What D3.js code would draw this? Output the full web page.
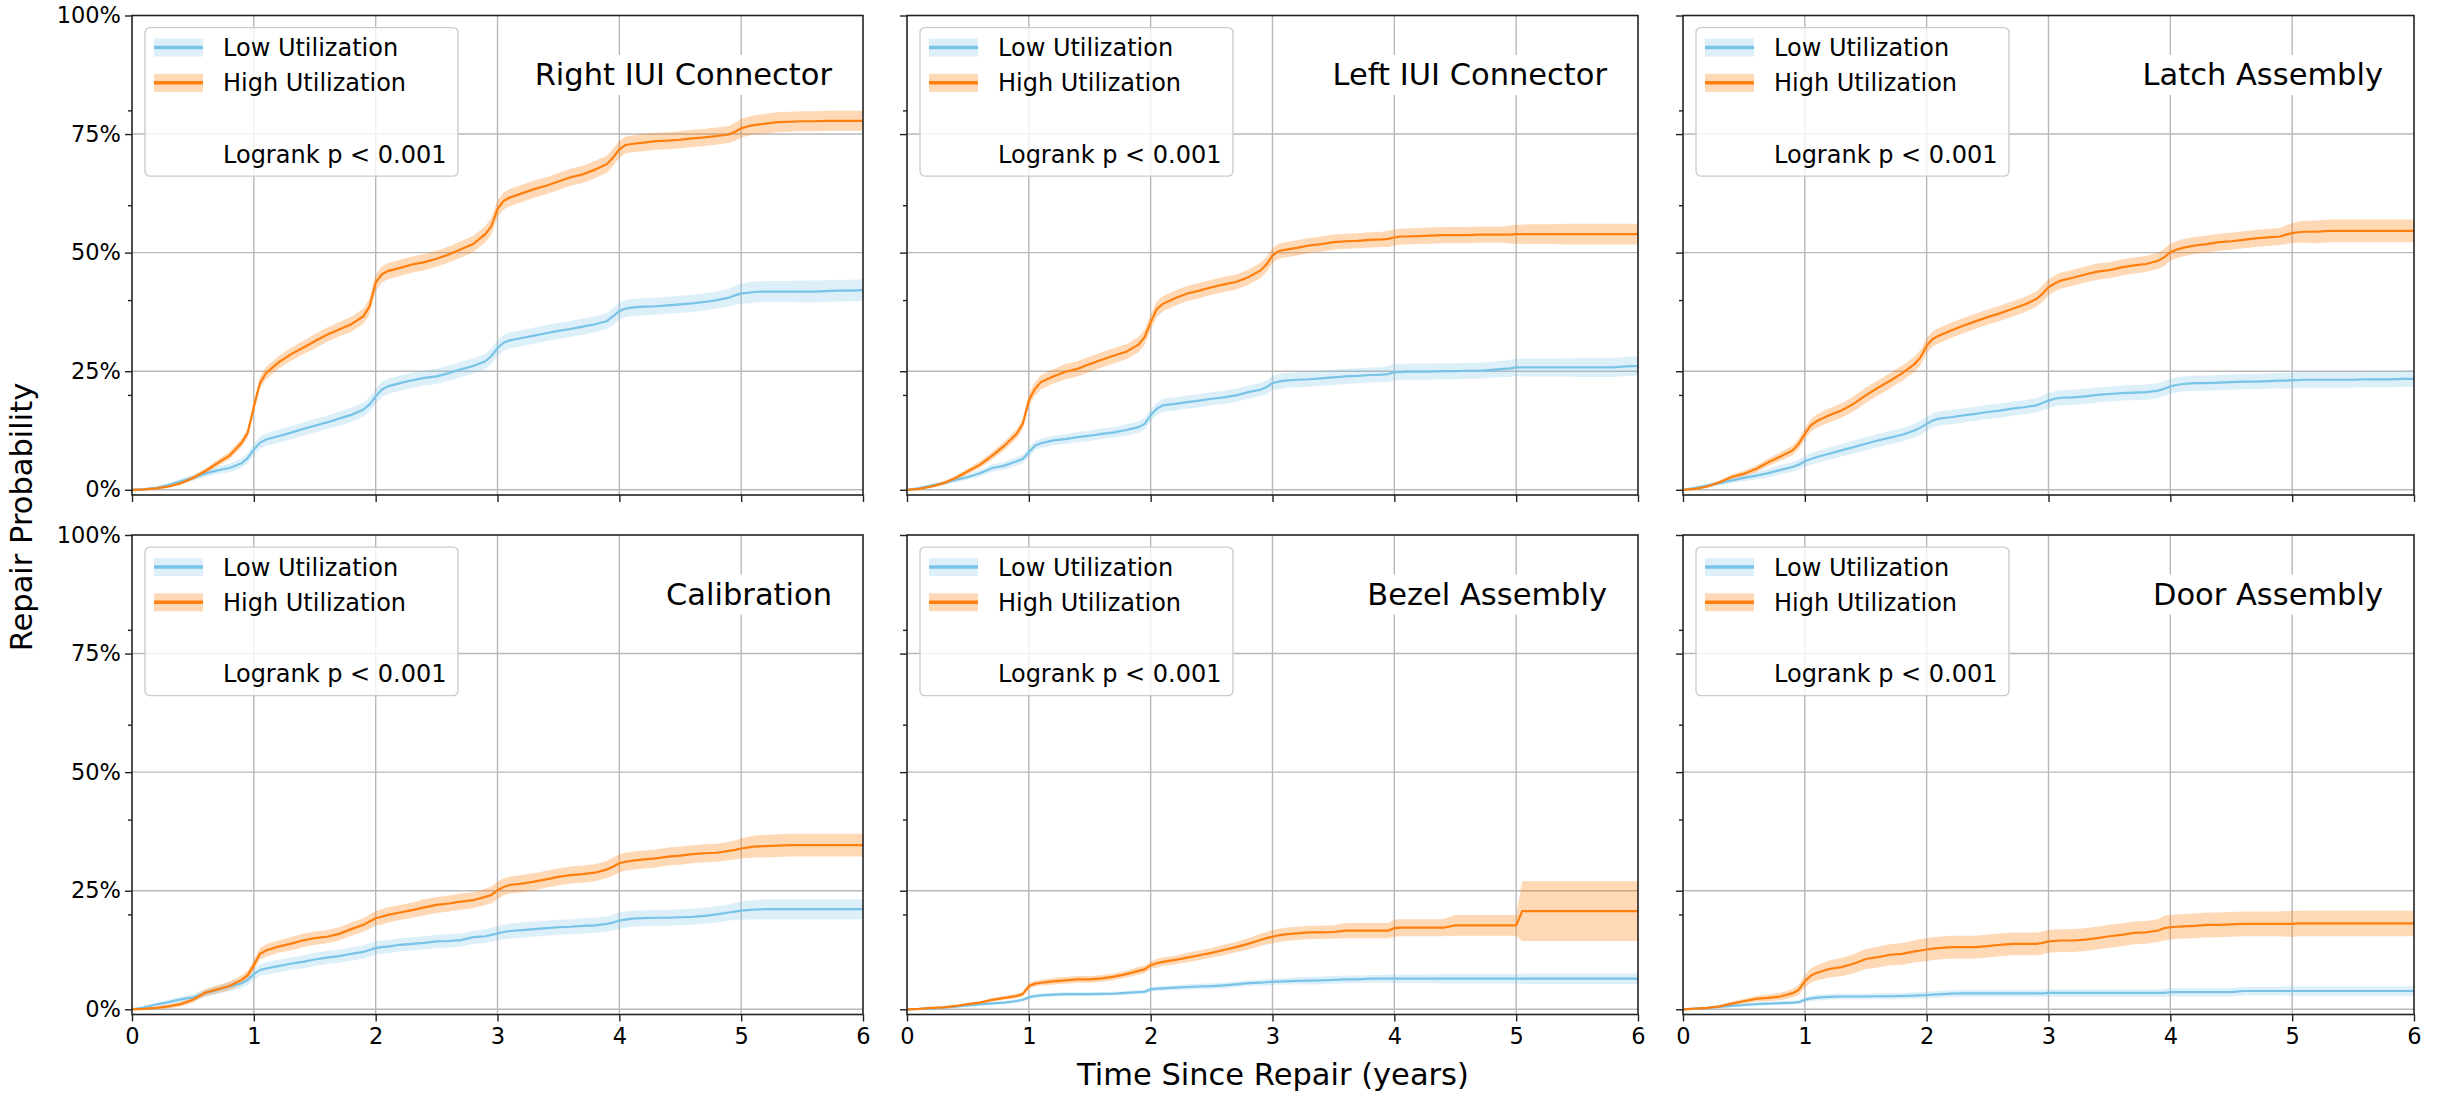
<!DOCTYPE html>
<html>
    <head>
        <meta charset="UTF-8">
        <script src="https://d3js.org/d3.v7.min.js"></script>
        <style>
            body { margin: 0; background: #fff; }
        </style>
    </head>

    <body>

        <svg id="canvas"></svg>

        <script>

            // time grid (years), shared by every curve
            years = [
                0, 0.1, 0.2, 0.3, 0.4, 0.5, 0.6, 0.7, 0.8, 0.9,
                0.95, 1, 1.05, 1.1, 1.2, 1.3, 1.4, 1.5, 1.6, 1.7, 1.8, 1.9,
                1.95, 2, 2.05, 2.1, 2.2, 2.3, 2.4, 2.5, 2.6, 2.7, 2.8, 2.9,
                2.95, 3, 3.05, 3.1, 3.2, 3.3, 3.4, 3.5, 3.6, 3.7, 3.8, 3.9,
                3.95, 4, 4.05, 4.1, 4.2, 4.3, 4.4, 4.5, 4.6, 4.7, 4.8, 4.9,
                4.95, 5, 5.05, 5.1, 5.2, 5.3, 5.4, 5.5, 5.6, 5.7, 5.8, 5.9,
                6
            ];

            titles = ["Right IUI Connector", "Left IUI Connector", "Latch Assembly",
                      "Calibration", "Bezel Assembly", "Door Assembly"];
            legendLabels = ["Low Utilization", "High Utilization"];
            pLabels = ["Logrank p < 0.001", "Logrank p < 0.001", "Logrank p < 0.001",
                       "Logrank p < 0.001", "Logrank p < 0.001", "Logrank p < 0.001"];
            xTicks = [0, 1, 2, 3, 4, 5, 6];
            yTicks = [0, 25, 50, 75, 100];
            yMinor = [20, 40, 60, 80];

            // repair probability (%) and CI half width (%)
            rightHigh = [
                0, 0.1, 0.3, 0.7, 1.4, 2.5, 3.9, 5.6, 7.2, 9.9,
                12, 17.5, 22.5, 24.6, 26.8, 28.5, 29.9, 31.3, 32.7, 33.8, 34.9, 36.6,
                38.7, 43.7, 45.4, 46.1, 46.8, 47.5, 48, 48.7, 49.6, 50.7, 51.8, 53.9,
                55.6, 59.2, 60.9, 61.6, 62.5, 63.4, 64.1, 65, 65.9, 66.5, 67.5, 68.7,
                70.1, 71.8, 72.7, 72.9, 73.2, 73.5, 73.6, 73.8, 74.1, 74.3, 74.6, 74.9,
                75.5, 76.2, 76.6, 76.9, 77.2, 77.5, 77.6, 77.7, 77.7, 77.8, 77.8, 77.8,
                77.8
            ];
            rightHighCI = [
                0, 0.1, 0.2, 0.3, 0.4, 0.5, 0.6, 0.7, 0.8, 0.9,
                1, 1.1, 1.2, 1.3, 1.3, 1.4, 1.4, 1.5, 1.5, 1.5, 1.6, 1.6,
                1.7, 1.7, 1.7, 1.7, 1.7, 1.7, 1.7, 1.7, 1.7, 1.7, 1.7, 1.7,
                1.8, 1.8, 1.8, 1.8, 1.8, 1.8, 1.8, 1.8, 1.8, 1.8, 1.8, 1.8,
                1.8, 1.8, 1.8, 1.8, 1.8, 1.8, 1.8, 1.8, 1.8, 1.8, 1.8, 1.8,
                1.9, 2, 2, 2, 2.1, 2.1, 2.1, 2.1, 2.1, 2.1, 2.1, 2.1,
                2.1
            ];
            rightLow = [
                0, 0.15, 0.4, 1, 1.8, 2.5, 3.4, 4.1, 4.6, 5.6,
                6.7, 8.5, 9.9, 10.6, 11.3, 12, 12.8, 13.5, 14.2, 15, 15.8, 16.9,
                18, 19.7, 21.1, 21.8, 22.5, 23.1, 23.6, 23.9, 24.6, 25.4, 26.1, 27.1,
                28.2, 29.9, 31, 31.5, 32, 32.5, 33, 33.5, 33.9, 34.4, 34.9, 35.6,
                36.6, 37.7, 38.2, 38.4, 38.6, 38.7, 38.9, 39.1, 39.3, 39.6, 40, 40.5,
                41, 41.4, 41.5, 41.7, 41.8, 41.8, 41.8, 41.8, 41.8, 41.9, 42, 42,
                42.1
            ];
            rightLowCI = [
                0, 0.2, 0.3, 0.4, 0.5, 0.6, 0.7, 0.8, 0.9, 1,
                1.1, 1.2, 1.3, 1.3, 1.4, 1.4, 1.4, 1.4, 1.4, 1.5, 1.5, 1.5,
                1.5, 1.6, 1.6, 1.6, 1.6, 1.6, 1.6, 1.6, 1.6, 1.6, 1.6, 1.6,
                1.7, 1.7, 1.7, 1.7, 1.7, 1.7, 1.7, 1.7, 1.7, 1.7, 1.7, 1.7,
                1.8, 1.8, 1.8, 1.8, 1.8, 1.8, 1.8, 1.8, 1.8, 1.8, 1.8, 1.9,
                2, 2.1, 2.2, 2.2, 2.2, 2.2, 2.2, 2.3, 2.3, 2.3, 2.3, 2.3,
                2.3
            ];

            leftHigh = [
                0, 0.2, 0.7, 1.4, 2.5, 3.9, 5.3, 7.2, 9.3, 11.8,
                13.9, 18.8, 21.3, 22.7, 23.9, 24.9, 25.5, 26.5, 27.4, 28.3, 29.1, 30.6,
                32.2, 35.3, 38.1, 39.2, 40.4, 41.4, 42, 42.7, 43.3, 43.8, 44.8, 46.2,
                47.5, 49.4, 50.3, 50.6, 51, 51.5, 51.8, 52.2, 52.4, 52.5, 52.7, 52.8,
                52.9, 53.2, 53.4, 53.4, 53.5, 53.6, 53.7, 53.7, 53.7, 53.8, 53.8, 53.8,
                53.8, 53.9, 53.9, 53.9, 53.9, 53.9, 53.9, 53.9, 53.9, 53.9, 53.9, 53.9,
                53.9
            ];
            leftHighCI = [
                0, 0.2, 0.3, 0.4, 0.5, 0.6, 0.7, 0.8, 0.9, 1,
                1.1, 1.3, 1.4, 1.5, 1.5, 1.6, 1.6, 1.6, 1.6, 1.6, 1.6, 1.6,
                1.6, 1.6, 1.6, 1.6, 1.6, 1.6, 1.6, 1.6, 1.6, 1.6, 1.6, 1.6,
                1.6, 1.6, 1.6, 1.6, 1.6, 1.6, 1.6, 1.6, 1.6, 1.6, 1.6, 1.6,
                1.7, 1.7, 1.7, 1.7, 1.7, 1.7, 1.7, 1.7, 1.7, 1.7, 1.7, 1.7,
                1.9, 2, 2, 2.1, 2.1, 2.1, 2.2, 2.2, 2.2, 2.2, 2.2, 2.2,
                2.2
            ];
            leftLow = [
                0, 0.35, 0.9, 1.4, 2.1, 2.7, 3.5, 4.6, 5.1, 6,
                6.5, 7.9, 9.3, 9.8, 10.4, 10.7, 11.1, 11.4, 11.8, 12.1, 12.6, 13.2,
                13.9, 15.7, 17.1, 17.8, 18.1, 18.5, 18.8, 19.2, 19.5, 19.9, 20.6, 21.1,
                21.6, 22.5, 22.8, 23, 23.2, 23.3, 23.5, 23.7, 23.9, 24, 24.2, 24.3,
                24.4, 24.8, 24.8, 24.9, 24.9, 24.9, 25, 25, 25.1, 25.1, 25.3, 25.5,
                25.6, 25.8, 25.8, 25.8, 25.8, 25.8, 25.8, 25.8, 25.8, 25.8, 25.8, 26,
                26.1
            ];
            leftLowCI = [
                0, 0.2, 0.3, 0.4, 0.5, 0.6, 0.7, 0.8, 0.8, 0.9,
                0.9, 1, 1, 1, 1, 1, 1.1, 1.1, 1.1, 1.1, 1.2, 1.2,
                1.2, 1.3, 1.3, 1.4, 1.4, 1.4, 1.4, 1.4, 1.4, 1.4, 1.4, 1.4,
                1.5, 1.5, 1.6, 1.6, 1.6, 1.6, 1.6, 1.6, 1.6, 1.6, 1.6, 1.6,
                1.7, 1.7, 1.7, 1.7, 1.7, 1.7, 1.7, 1.7, 1.7, 1.7, 1.7, 1.7,
                1.8, 1.8, 1.9, 1.9, 1.9, 1.9, 1.9, 2, 2, 2, 2, 2,
                2
            ];

            latchHigh = [
                0, 0.2, 0.7, 1.6, 2.7, 3.4, 4.4, 5.8, 7, 8.3,
                9.7, 11.8, 13.6, 14.5, 15.7, 16.7, 18.1, 19.9, 21.5, 23, 24.6, 26.5,
                27.9, 30.4, 31.8, 32.5, 33.6, 34.6, 35.5, 36.4, 37.2, 38.1, 39, 40.2,
                41.3, 42.7, 43.5, 44.1, 44.7, 45.4, 46, 46.3, 46.9, 47.3, 47.6, 48.3,
                49, 50.1, 50.6, 51, 51.5, 51.8, 52.2, 52.4, 52.7, 53, 53.2, 53.4,
                53.8, 54.1, 54.3, 54.4, 54.4, 54.6, 54.6, 54.6, 54.6, 54.6, 54.6, 54.6,
                54.6
            ];
            latchHighCI = [
                0, 0.2, 0.3, 0.4, 0.5, 0.6, 0.7, 0.8, 0.9, 1,
                1.1, 1.2, 1.3, 1.4, 1.5, 1.5, 1.6, 1.6, 1.6, 1.6, 1.6, 1.6,
                1.6, 1.6, 1.6, 1.6, 1.6, 1.6, 1.6, 1.6, 1.6, 1.6, 1.6, 1.6,
                1.7, 1.7, 1.7, 1.7, 1.7, 1.7, 1.7, 1.7, 1.7, 1.7, 1.7, 1.7,
                1.8, 1.8, 1.8, 1.8, 1.8, 1.8, 1.8, 1.8, 1.8, 1.8, 1.8, 1.8,
                2, 2.1, 2.2, 2.3, 2.4, 2.4, 2.4, 2.4, 2.4, 2.4, 2.4, 2.4,
                2.4
            ];
            latchLow = [
                0, 0.4, 0.9, 1.4, 2, 2.5, 3, 3.5, 4.2, 4.8,
                5.3, 6, 6.5, 6.9, 7.6, 8.3, 9, 9.7, 10.4, 11, 11.6, 12.5,
                13.1, 13.9, 14.6, 15, 15.3, 15.7, 16, 16.4, 16.7, 17.1, 17.4, 17.8,
                18.3, 18.8, 19.2, 19.4, 19.5, 19.7, 20, 20.2, 20.4, 20.5, 20.6, 20.9,
                21.3, 21.8, 22.1, 22.3, 22.5, 22.5, 22.6, 22.7, 22.8, 22.8, 22.9, 23,
                23, 23.1, 23.1, 23.2, 23.2, 23.2, 23.2, 23.2, 23.3, 23.3, 23.3, 23.4,
                23.4
            ];
            latchLowCI = [
                0, 0.3, 0.4, 0.5, 0.6, 0.7, 0.8, 0.9, 1, 1,
                1.1, 1.1, 1.2, 1.2, 1.3, 1.3, 1.4, 1.4, 1.4, 1.4, 1.4, 1.4,
                1.5, 1.5, 1.5, 1.5, 1.5, 1.5, 1.5, 1.5, 1.5, 1.5, 1.5, 1.5,
                1.6, 1.6, 1.6, 1.6, 1.6, 1.6, 1.6, 1.6, 1.6, 1.6, 1.6, 1.6,
                1.6, 1.6, 1.6, 1.6, 1.6, 1.6, 1.6, 1.6, 1.6, 1.6, 1.6, 1.6,
                1.7, 1.7, 1.7, 1.7, 1.7, 1.7, 1.7, 1.7, 1.7, 1.7, 1.7, 1.7,
                1.8
            ];

            calibHigh = [
                0, 0.1, 0.3, 0.6, 1.1, 2, 3.5, 4.2, 4.9, 6.2,
                7.2, 9.3, 11.7, 12.4, 13.2, 13.8, 14.5, 15, 15.3, 15.9, 16.9, 17.8,
                18.5, 19.2, 19.5, 19.9, 20.4, 20.9, 21.5, 22, 22.3, 22.7, 23, 23.7,
                24.1, 25.1, 25.8, 26.2, 26.5, 26.9, 27.4, 27.9, 28.3, 28.5, 28.8, 29.5,
                30.1, 30.8, 31.1, 31.3, 31.6, 31.8, 32.2, 32.4, 32.7, 32.9, 33, 33.4,
                33.6, 33.9, 34.1, 34.3, 34.4, 34.5, 34.6, 34.6, 34.6, 34.6, 34.6, 34.6,
                34.6
            ];
            calibHighCI = [
                0, 0.2, 0.3, 0.4, 0.5, 0.6, 0.7, 0.8, 0.9, 1,
                1, 1.1, 1.2, 1.3, 1.3, 1.4, 1.4, 1.4, 1.4, 1.4, 1.4, 1.4,
                1.5, 1.5, 1.6, 1.6, 1.6, 1.6, 1.7, 1.7, 1.7, 1.7, 1.7, 1.7,
                1.8, 1.8, 1.8, 1.8, 1.8, 1.8, 1.8, 1.8, 1.8, 1.8, 1.8, 1.8,
                1.9, 1.9, 1.9, 1.9, 1.9, 1.9, 1.9, 1.9, 1.9, 1.9, 1.9, 1.9,
                2, 2.1, 2.2, 2.3, 2.4, 2.4, 2.4, 2.4, 2.4, 2.4, 2.4, 2.4,
                2.4
            ];
            calibLow = [
                0, 0.4, 1, 1.5, 2.1, 2.5, 3.4, 4.1, 4.8, 5.5,
                6.2, 7.4, 8.3, 8.6, 9.1, 9.6, 10, 10.5, 10.9, 11.2, 11.7, 12.1,
                12.5, 12.9, 13.1, 13.2, 13.6, 13.8, 14, 14.3, 14.4, 14.6, 15.2, 15.4,
                15.7, 16, 16.3, 16.5, 16.7, 16.9, 17.1, 17.3, 17.4, 17.6, 17.7, 18,
                18.3, 18.7, 18.9, 19.1, 19.2, 19.3, 19.3, 19.4, 19.5, 19.7, 20, 20.4,
                20.6, 20.8, 20.9, 21, 21.1, 21.1, 21.1, 21.1, 21.1, 21.1, 21.1, 21.1,
                21.1
            ];
            calibLowCI = [
                0, 0.3, 0.4, 0.5, 0.6, 0.7, 0.8, 0.9, 1, 1,
                1.1, 1.2, 1.2, 1.3, 1.3, 1.3, 1.4, 1.4, 1.4, 1.4, 1.4, 1.4,
                1.4, 1.4, 1.4, 1.4, 1.4, 1.4, 1.4, 1.4, 1.4, 1.4, 1.4, 1.4,
                1.5, 1.5, 1.6, 1.6, 1.6, 1.6, 1.6, 1.6, 1.6, 1.6, 1.6, 1.6,
                1.7, 1.7, 1.7, 1.7, 1.7, 1.7, 1.7, 1.7, 1.7, 1.7, 1.7, 1.7,
                1.8, 1.9, 2, 2, 2.1, 2.1, 2.1, 2.1, 2.1, 2.1, 2.1, 2.1,
                2.1
            ];

            bezelHigh = [
                0, 0.1, 0.3, 0.4, 0.7, 1.1, 1.4, 2, 2.4, 2.8,
                3.2, 4.9, 5.4, 5.6, 5.9, 6.1, 6.3, 6.3, 6.5, 6.9, 7.4, 8.1,
                8.4, 9.3, 9.7, 10, 10.4, 10.9, 11.4, 11.9, 12.5, 13.1, 13.8, 14.6,
                15, 15.3, 15.6, 15.8, 16, 16.2, 16.2, 16.3, 16.6, 16.6, 16.6, 16.6,
                16.6, 17.1, 17.2, 17.2, 17.2, 17.2, 17.2, 17.7, 17.7, 17.7, 17.7, 17.7,
                17.7, 17.7, 20.7, 20.7, 20.7, 20.7, 20.7, 20.7, 20.7, 20.7, 20.7, 20.7,
                20.7
            ];
            bezelHighCI = [
                0, 0.1, 0.1, 0.2, 0.2, 0.3, 0.3, 0.4, 0.4, 0.5,
                0.5, 0.6, 0.6, 0.6, 0.7, 0.7, 0.7, 0.7, 0.7, 0.7, 0.7, 0.8,
                0.8, 0.8, 0.9, 0.9, 0.9, 1, 1, 1, 1.1, 1.1, 1.2, 1.3,
                1.3, 1.4, 1.4, 1.4, 1.4, 1.4, 1.4, 1.4, 1.6, 1.6, 1.6, 1.6,
                1.6, 1.8, 1.8, 1.8, 1.8, 1.8, 1.8, 2.2, 2.2, 2.2, 2.2, 2.2,
                2.2, 2.2, 6.3, 6.3, 6.3, 6.3, 6.3, 6.3, 6.3, 6.3, 6.3, 6.3,
                6.3
            ];
            bezelLow = [
                0, 0.07, 0.2, 0.35, 0.55, 0.8, 1.05, 1.25, 1.4, 1.75,
                2, 2.5, 2.8, 2.95, 3.1, 3.2, 3.2, 3.2, 3.25, 3.3, 3.45, 3.6,
                3.7, 4.2, 4.35, 4.4, 4.55, 4.7, 4.8, 4.9, 5.05, 5.25, 5.5, 5.6,
                5.7, 5.8, 5.85, 5.9, 6, 6.05, 6.1, 6.2, 6.3, 6.3, 6.45, 6.45,
                6.45, 6.45, 6.45, 6.45, 6.45, 6.45, 6.45, 6.45, 6.45, 6.45, 6.45, 6.45,
                6.45, 6.45, 6.45, 6.45, 6.45, 6.45, 6.45, 6.45, 6.45, 6.45, 6.45, 6.45,
                6.45
            ];
            bezelLowCI = [
                0, 0.05, 0.1, 0.15, 0.2, 0.25, 0.3, 0.3, 0.35, 0.35,
                0.4, 0.4, 0.4, 0.4, 0.4, 0.4, 0.4, 0.4, 0.4, 0.4, 0.4, 0.4,
                0.5, 0.5, 0.5, 0.5, 0.5, 0.6, 0.6, 0.6, 0.6, 0.6, 0.6, 0.6,
                0.7, 0.7, 0.7, 0.7, 0.7, 0.8, 0.8, 0.8, 0.8, 0.8, 0.8, 0.8,
                0.9, 0.9, 0.9, 0.9, 0.9, 0.9, 1, 1, 1, 1, 1, 1,
                1, 1, 1.1, 1.1, 1.1, 1.1, 1.1, 1.1, 1.1, 1.1, 1.1, 1.1,
                1.1
            ];

            doorHigh = [
                0, 0.15, 0.3, 0.6, 1.2, 1.7, 2.2, 2.4, 2.7, 3.4,
                4.1, 5.9, 7.1, 7.7, 8.5, 8.9, 9.6, 10.6, 11, 11.5, 11.7, 12.2,
                12.4, 12.6, 12.8, 12.9, 13.1, 13.1, 13.1, 13.3, 13.6, 13.8, 13.8, 13.8,
                14, 14.3, 14.4, 14.5, 14.5, 14.7, 15, 15.4, 15.7, 16.1, 16.2, 16.6,
                17.1, 17.3, 17.4, 17.5, 17.6, 17.8, 17.8, 17.9, 18, 18, 18, 18,
                18, 18, 18.1, 18.1, 18.1, 18.1, 18.1, 18.1, 18.1, 18.1, 18.1, 18.1,
                18.1
            ];
            doorHighCI = [
                0, 0.1, 0.2, 0.3, 0.4, 0.5, 0.6, 0.7, 0.8, 0.9,
                1.1, 1.3, 1.5, 1.6, 1.8, 1.9, 2, 2.1, 2.2, 2.2, 2.3, 2.3,
                2.4, 2.4, 2.4, 2.4, 2.4, 2.4, 2.4, 2.4, 2.4, 2.4, 2.4, 2.4,
                2.4, 2.4, 2.4, 2.4, 2.4, 2.4, 2.4, 2.4, 2.4, 2.4, 2.4, 2.4,
                2.6, 2.6, 2.6, 2.6, 2.6, 2.6, 2.6, 2.6, 2.6, 2.6, 2.6, 2.6,
                2.7, 2.7, 2.7, 2.7, 2.7, 2.7, 2.7, 2.7, 2.7, 2.7, 2.7, 2.7,
                2.7
            ];
            doorLow = [
                0, 0.15, 0.3, 0.5, 0.7, 0.9, 1.1, 1.2, 1.3, 1.4,
                1.5, 2, 2.3, 2.45, 2.6, 2.7, 2.7, 2.7, 2.75, 2.75, 2.8, 2.9,
                2.95, 3, 3.1, 3.15, 3.3, 3.35, 3.35, 3.35, 3.35, 3.35, 3.35, 3.35,
                3.35, 3.45, 3.45, 3.45, 3.45, 3.45, 3.45, 3.45, 3.45, 3.45, 3.45, 3.45,
                3.45, 3.6, 3.6, 3.6, 3.6, 3.6, 3.6, 3.6, 3.85, 3.85, 3.85, 3.85,
                3.85, 3.85, 3.85, 3.85, 3.85, 3.85, 3.85, 3.85, 3.85, 3.85, 3.85, 3.85,
                3.85
            ];
            doorLowCI = [
                0, 0.1, 0.15, 0.2, 0.25, 0.3, 0.35, 0.35, 0.4, 0.4,
                0.45, 0.5, 0.55, 0.6, 0.6, 0.6, 0.6, 0.6, 0.65, 0.65, 0.65, 0.7,
                0.7, 0.7, 0.7, 0.7, 0.7, 0.7, 0.7, 0.7, 0.7, 0.7, 0.7, 0.7,
                0.8, 0.8, 0.8, 0.8, 0.8, 0.8, 0.8, 0.8, 0.8, 0.8, 0.8, 0.8,
                0.9, 0.9, 0.9, 0.9, 0.9, 0.9, 0.9, 0.9, 0.9, 0.9, 0.9, 0.9,
                1, 1, 1, 1, 1, 1, 1, 1, 1, 1, 1, 1,
                1
            ];

            panels = [
                { low: rightLow, lowCI: rightLowCI, high: rightHigh, highCI: rightHighCI },
                { low: leftLow,  lowCI: leftLowCI,  high: leftHigh,  highCI: leftHighCI },
                { low: latchLow, lowCI: latchLowCI, high: latchHigh, highCI: latchHighCI },
                { low: calibLow, lowCI: calibLowCI, high: calibHigh, highCI: calibHighCI },
                { low: bezelLow, lowCI: bezelLowCI, high: bezelHigh, highCI: bezelHighCI },
                { low: doorLow,  lowCI: doorLowCI,  high: doorHigh,  highCI: doorHighCI }
            ];

            width = 2440;
            height = 1095;
            colLeft = [132, 907, 1683];
            rowTop = [15.5, 535];
            pw = 731;
            ph = 479.5;
            font = "DejaVu Sans";
            colors = ["#78c3e7", "#ff7f0e"];

            canvas = d3.select("#canvas")
                .attr("width", width)
                .attr("height", height)
                .style("font-family", font);

            canvas.append("rect")
                .attr("width", width)
                .attr("height", height)
                .attr("fill", "#fff");

            x = d3.scaleLinear().domain([0, 6]).range([0, pw]);
            y = d3.scaleLinear().domain([-1.1, 100]).range([ph, 0]);

            line = d3.line()
                .x((d, i) => x(years[i]))
                .y((d) => y(d));

            panels.forEach(function(p, i) {
                var r = Math.floor(i / 3), c = i % 3;
                var g = canvas.append("g")
                    .attr("transform", "translate(" + colLeft[c] + "," + rowTop[r] + ")");

                // grid
                g.append("g").selectAll("line")
                    .data(xTicks.slice(1, -1))
                    .enter().append("line")
                        .attr("x1", x).attr("x2", x)
                        .attr("y1", 0).attr("y2", ph)
                        .attr("style", "stroke:#b8b8b8; stroke-width:1.4");
                g.append("g").selectAll("line")
                    .data(yTicks.slice(0, -1))
                    .enter().append("line")
                        .attr("x1", 0).attr("x2", pw)
                        .attr("y1", y).attr("y2", y)
                        .attr("style", "stroke:#b8b8b8; stroke-width:1.4");

                // confidence bands, then survival lines
                [[p.low, p.lowCI], [p.high, p.highCI]].forEach(function(s, k) {
                    var area = d3.area()
                        .x((d, j) => x(years[j]))
                        .y0((d, j) => y(Math.max(0, d - s[1][j])))
                        .y1((d, j) => y(d + s[1][j]));
                    g.append("path")
                        .datum(s[0])
                        .attr("d", area)
                        .attr("fill", colors[k])
                        .attr("fill-opacity", k == 0 ? 0.25 : 0.3);
                });
                [p.low, p.high].forEach(function(s, k) {
                    g.append("path")
                        .datum(s)
                        .attr("d", line)
                        .attr("fill", "none")
                        .attr("stroke", colors[k])
                        .attr("stroke-width", 2.2);
                });

                // spines
                g.append("rect")
                    .attr("width", pw).attr("height", ph)
                    .attr("style", "fill:none; stroke:#222; stroke-width:1.6");

                // axes
                var xa = g.append("g")
                    .attr("transform", "translate(0," + ph + ")")
                    .call(d3.axisBottom(x).tickValues(xTicks).tickSize(7).tickPadding(7)
                        .tickFormat(r == 1 ? d3.format("d") : () => ""));
                var ya = g.append("g")
                    .call(d3.axisLeft(y).tickValues(yTicks).tickSize(7).tickPadding(4)
                        .tickFormat(c == 0 ? (d) => d + "%" : () => ""));
                var ym = g.append("g")
                    .call(d3.axisLeft(y).tickValues(yMinor).tickSize(4).tickFormat(() => ""));
                [xa, ya, ym].forEach(function(a) {
                    a.attr("font-family", font).attr("font-size", 22.5);
                    a.select(".domain").remove();
                    a.selectAll("line").attr("stroke", "#222").attr("stroke-width", 1.4);
                    a.selectAll("text").attr("fill", "#000");
                });

                // panel title on a white box
                var t = g.append("text")
                    .attr("x", pw - 31)
                    .attr("y", 69.5)
                    .attr("text-anchor", "end")
                    .attr("font-size", 30.5)
                    .text(titles[i]);
                var bb = t.node().getBBox();
                g.insert("rect", () => t.node())
                    .attr("x", bb.x - 8).attr("y", 39.5)
                    .attr("width", bb.width + 16).attr("height", 40)
                    .attr("fill", "#fff");

                // legend
                var lg = g.append("g").attr("transform", "translate(13,12.1)");
                lg.append("rect")
                    .attr("width", 313).attr("height", 148.5).attr("rx", 5)
                    .attr("style", "fill:#fff; fill-opacity:0.8; stroke:#cccccc; stroke-width:1.4");
                legendLabels.forEach(function(lab, k) {
                    var cy = 20 + k * 35.2;
                    lg.append("rect")
                        .attr("x", 9).attr("y", cy - 9)
                        .attr("width", 49).attr("height", 18)
                        .attr("fill", colors[k])
                        .attr("fill-opacity", k == 0 ? 0.25 : 0.3);
                    lg.append("line")
                        .attr("x1", 9).attr("x2", 58)
                        .attr("y1", cy).attr("y2", cy)
                        .attr("stroke", colors[k])
                        .attr("stroke-width", 3.5);
                    lg.append("text")
                        .attr("x", 78).attr("y", cy + 8.5)
                        .attr("font-size", 24)
                        .text(lab);
                });
                lg.append("text")
                    .attr("x", 78).attr("y", 135)
                    .attr("font-size", 24)
                    .text(pLabels[i]);
            });

            // shared axis labels
            canvas.append("text")
                .attr("transform", "translate(32,517) rotate(-90)")
                .attr("text-anchor", "middle")
                .attr("font-size", 30.5)
                .text("Repair Probability");

            canvas.append("text")
                .attr("x", (colLeft[0] + colLeft[2] + pw) / 2)
                .attr("y", 1085)
                .attr("text-anchor", "middle")
                .attr("font-size", 30.5)
                .text("Time Since Repair (years)");

        </script>

    </body>

</html>
